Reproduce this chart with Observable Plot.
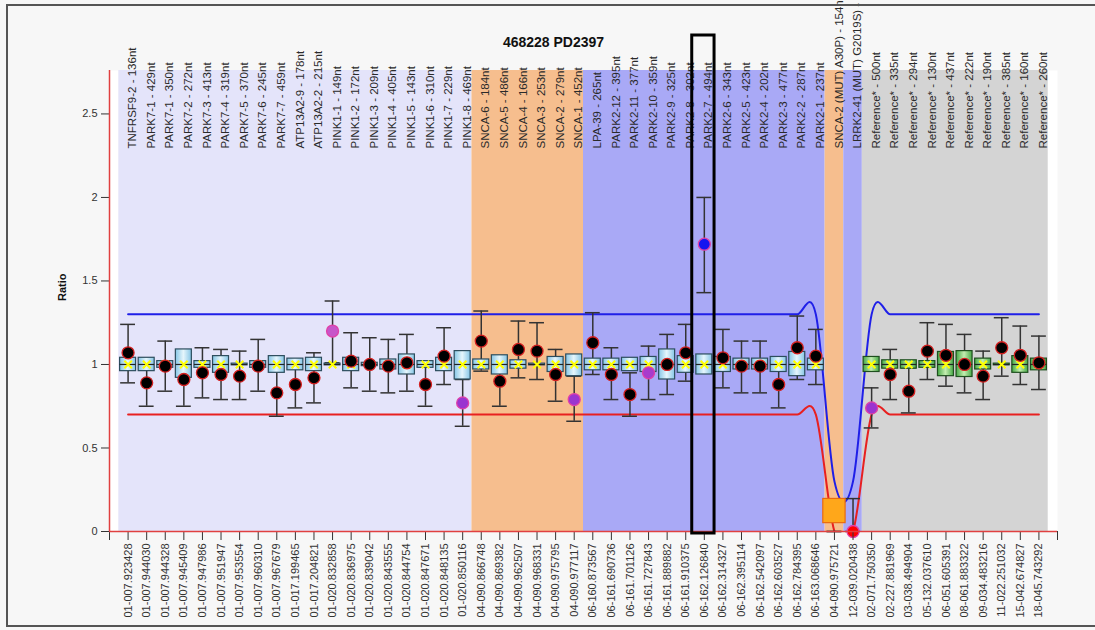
<!DOCTYPE html>
<html><head><meta charset="utf-8">
<script src="https://cdn.jsdelivr.net/npm/d3@7"></script>
<script src="https://cdn.jsdelivr.net/npm/@observablehq/plot@0.6"></script>
<style>
html,body{margin:0;padding:0;background:#f7f7f7;}
#wrap{position:relative;width:1095px;height:630px;overflow:hidden;}
#frame{position:absolute;left:6px;top:4px;width:1100px;height:619px;border-left:2px solid #555;border-top:2px solid #555;border-bottom:2px solid #555;pointer-events:none;}
</style></head>
<body><div id="wrap"><div id="chart"></div><div id="frame"></div></div>
<script>
// ---- data ----
const title = "468228 PD2397";
const probeNames = ["TNFRSF9-2 - 136nt","PARK7-1 - 429nt","PARK7-1 - 350nt","PARK7-2 - 272nt","PARK7-3 - 413nt","PARK7-4 - 319nt","PARK7-5 - 370nt","PARK7-6 - 245nt","PARK7-7 - 459nt","ATP13A2-9 - 178nt","ATP13A2-2 - 215nt","PINK1-1 - 149nt","PINK1-2 - 172nt","PINK1-3 - 209nt","PINK1-4 - 405nt","PINK1-5 - 143nt","PINK1-6 - 310nt","PINK1-7 - 229nt","PINK1-8 - 469nt","SNCA-6 - 184nt","SNCA-5 - 486nt","SNCA-4 - 166nt","SNCA-3 - 253nt","SNCA-2 - 279nt","SNCA-1 - 452nt","LPA-39 - 265nt","PARK2-12 - 395nt","PARK2-11 - 377nt","PARK2-10 - 359nt","PARK2-9 - 325nt","PARK2-8 - 302nt","PARK2-7 - 494nt","PARK2-6 - 343nt","PARK2-5 - 423nt","PARK2-4 - 202nt","PARK2-3 - 477nt","PARK2-2 - 287nt","PARK2-1 - 237nt","SNCA-2 (MUT) A30P) - 154nt","LRRK2-41 (MUT) G2019S) -","Reference* - 500nt","Reference* - 335nt","Reference* - 294nt","Reference* - 130nt","Reference* - 437nt","Reference* - 222nt","Reference* - 190nt","Reference* - 385nt","Reference* - 160nt","Reference* - 260nt"];
const loci = ["01-007.923428","01-007.944030","01-007.944328","01-007.945409","01-007.947986","01-007.951947","01-007.953554","01-007.960310","01-007.967679","01-017.199465","01-017.204821","01-020.832858","01-020.836975","01-020.839042","01-020.843555","01-020.844754","01-020.847671","01-020.848135","01-020.850116","04-090.866748","04-090.869382","04-090.962507","04-090.968331","04-090.975795","04-090.977117","06-160.873567","06-161.690736","06-161.701126","06-161.727843","06-161.889882","06-161.910375","06-162.126840","06-162.314327","06-162.395114","06-162.542097","06-162.603527","06-162.784395","06-163.068646","04-090.975721","12-039.020438","02-071.750350","02-227.881969","03-038.494904","05-132.037610","06-051.605391","08-061.883322","09-034.483216","11-022.251032","15-042.674827","18-045.743292"];
const ratio   = [1.07,0.89,0.99,0.91,0.95,0.94,0.93,0.99,0.83,0.88,0.92,1.20,1.02,1.00,0.99,1.01,0.88,1.05,0.77,1.14,0.90,1.09,1.08,0.94,0.79,1.13,0.94,0.82,0.95,1.00,1.07,1.72,1.04,0.99,0.99,0.88,1.10,1.05,null,0.00,0.74,0.94,0.84,1.08,1.055,1.00,0.93,1.10,1.055,1.01];
const ciLow   = [0.89,0.75,0.84,0.75,0.80,0.79,0.79,0.84,0.69,0.74,0.77,1.01,0.86,0.84,0.83,0.84,0.75,0.88,0.63,0.96,0.75,0.92,0.91,0.78,0.66,0.94,0.79,0.69,0.79,0.82,0.90,1.43,0.86,0.83,0.83,0.74,0.91,0.88,0.00,0.00,0.62,0.79,0.71,0.91,0.87,0.83,0.79,0.93,0.88,0.85];
const ciHigh  = [1.24,1.03,1.14,1.07,1.10,1.09,1.08,1.15,0.97,1.02,1.07,1.38,1.19,1.16,1.15,1.18,1.02,1.22,0.91,1.32,1.05,1.26,1.25,1.09,0.93,1.31,1.10,0.95,1.11,1.18,1.24,2.00,1.21,1.14,1.14,1.03,1.29,1.21,0.00,0.197,0.86,1.09,0.98,1.25,1.24,1.18,1.08,1.28,1.23,1.17];
const boxLow  = [0.96,0.96,0.98,0.92,0.98,0.95,0.995,0.98,0.95,0.965,0.96,0.995,0.96,0.99,0.97,0.94,0.98,0.96,0.91,0.97,0.94,0.975,0.995,0.955,0.93,0.965,0.965,0.96,0.955,0.91,0.95,0.94,0.955,0.97,0.97,0.955,0.93,0.965,0.05,null,0.955,0.975,0.975,0.98,0.93,0.925,0.97,0.995,0.95,0.965];
const boxHigh = [1.04,1.04,1.02,1.09,1.02,1.05,1.005,1.02,1.05,1.035,1.04,1.005,1.04,1.01,1.03,1.06,1.02,1.04,1.08,1.03,1.055,1.025,1.005,1.045,1.06,1.035,1.035,1.04,1.045,1.09,1.05,1.06,1.045,1.035,1.035,1.045,1.075,1.035,0.195,null,1.045,1.025,1.025,1.02,1.075,1.08,1.035,1.005,1.05,1.035];
const median  = [1,1,1,1,1,1,1,1,1,1,1,1,1,1,1,1,1,1,1,1,1,1,1,1,1,1,1,1,1,1,1,1,1,1,1,1,1,1,null,null,1,1,1,1,1,1,1,1,1,1];
const boxKind = ["test","test","test","test","test","test","test","test","test","test","test","test","test","test","test","test","test","test","test","test","test","test","test","test","test","test","test","test","test","test","test","test","test","test","test","test","test","test","mut","none","ref","ref","ref","ref","ref","ref","ref","ref","ref","ref"];
const dotFill = ["#000","#000","#000","#000","#000","#000","#000","#000","#000","#000","#000","#c755c9","#000","#000","#000","#000","#000","#000","#9a35d0","#000","#000","#000","#000","#000","#9a35d0","#000","#000","#000","#a83ccc","#000","#000","#1414f0","#000","#000","#000","#000","#000","#000","#000","#ff0000","#9a35d0","#000","#000","#000","#000","#000","#000","#000","#000","#000"];
const upperLimit = [1.3,1.3,1.3,1.3,1.3,1.3,1.3,1.3,1.3,1.3,1.3,1.3,1.3,1.3,1.3,1.3,1.3,1.3,1.3,1.3,1.3,1.3,1.3,1.3,1.3,1.3,1.3,1.3,1.3,1.3,1.3,1.3,1.3,1.3,1.3,1.3,1.3,1.3,0.3,0.3,1.3,1.3,1.3,1.3,1.3,1.3,1.3,1.3,1.3,1.3];
const lowerLimit = [0.7,0.7,0.7,0.7,0.7,0.7,0.7,0.7,0.7,0.7,0.7,0.7,0.7,0.7,0.7,0.7,0.7,0.7,0.7,0.7,0.7,0.7,0.7,0.7,0.7,0.7,0.7,0.7,0.7,0.7,0.7,0.7,0.7,0.7,0.7,0.7,0.7,0.7,0.0,0.0,0.7,0.7,0.7,0.7,0.7,0.7,0.7,0.7,0.7,0.7];
const bandStart = [0,19,25,38,39,40];
const bandEnd   = [18,24,37,38,39,49];
const bandColor = ["#e4e4fa","#f6be8e","#a9a9f6","#f6be8e","#a9a9f6","#d4d4d4"];
const highlightIndex = 31;
const yTicks = [0,0.5,1,1.5,2,2.5];
const yMax = 2.76;

// ---- build table ----
const rows = probeNames.map((name, i) => ({
  i, name, locus: loci[i], ratio: ratio[i], lo: ciLow[i], hi: ciHigh[i],
  bLo: boxLow[i], bHi: boxHigh[i], med: median[i], kind: boxKind[i],
  fill: dotFill[i], stroke: dotFill[i] === "#000" ? "#d42020" : "#e040a8",
  up: upperLimit[i], low: lowerLimit[i]
}));
const bands = bandStart.map((s, k) => ({s, e: bandEnd[k], color: bandColor[k]}));
const boxed = rows.filter(d => d.bLo != null);
const BW = 0.43, CW = 0.4;

const chart = Plot.plot({
  width: 1095, height: 630,
  marginLeft: 109, marginRight: 38, marginTop: 70, marginBottom: 99,
  style: {background: "transparent", fontFamily: "'Liberation Sans', Arial, sans-serif", fontSize: "11px", color: "#333"},
  x: {type: "linear", domain: [-1, 50]},
  y: {domain: [0, yMax]},
  color: {type: "identity"},
  marks: [
    Plot.frame({fill: "white", stroke: null}),
    Plot.rect(bands, {x1: d => d.s - 0.5, x2: d => d.e + 0.5, y1: 0, y2: yMax, fill: "color"}),
    Plot.text(rows, {x: "i", text: "name", rotate: -90, textAnchor: "start", frameAnchor: "top", dy: 78, fill: "#2a2a2a", fontSize: 11.5}),
    Plot.line(rows, {x: "i", y: "up", stroke: "#1f1fe8", strokeWidth: 2, curve: "cardinal", clip: true}),
    Plot.line(rows, {x: "i", y: "low", stroke: "#e82020", strokeWidth: 2, curve: "cardinal", clip: true}),
    Plot.ruleX(rows, {x: "i", y1: "lo", y2: "hi", stroke: "#333", strokeWidth: 1.5}),
    Plot.ruleY(rows, {y: "hi", x1: d => d.i - CW, x2: d => d.i + CW, stroke: "#333", strokeWidth: 1.5}),
    Plot.ruleY(rows, {y: "lo", x1: d => d.i - CW, x2: d => d.i + CW, stroke: "#333", strokeWidth: 1.5}),
    Plot.rect(boxed.filter(d => d.kind === "test"), {x1: d => d.i - BW, x2: d => d.i + BW, y1: "bLo", y2: "bHi", fill: "url(#gBlue)", stroke: "#2d4d5d", strokeWidth: 1.2}),
    Plot.rect(boxed.filter(d => d.kind === "ref"), {x1: d => d.i - BW, x2: d => d.i + BW, y1: "bLo", y2: "bHi", fill: "url(#gGreen)", stroke: "#1f4f1f", strokeWidth: 1.2}),
    Plot.rect(boxed.filter(d => d.kind === "mut"), {x1: d => d.i - 0.6, x2: d => d.i + 0.6, y1: "bLo", y2: "bHi", fill: "#ffa71a", stroke: "#e86a10", strokeWidth: 1.2}),
    Plot.ruleY(rows.filter(d => d.med != null), {y: "med", x1: d => d.i - BW, x2: d => d.i + BW, stroke: "#222", strokeWidth: 1.2}),
    Plot.dot(rows.filter(d => d.med != null), {x: "i", y: "med", symbol: "times", r: 3.5, stroke: "#ffff00", strokeWidth: 2}),
    Plot.dot(rows.filter(d => d.ratio != null), {x: "i", y: "ratio", r: 6, fill: "fill", stroke: "stroke", strokeWidth: 1.3}),
    Plot.axisY({ticks: yTicks, tickSize: 8, tickPadding: 4, tickFormat: d => String(d), label: null, fontSize: 11}),
    Plot.axisX({ticks: d3.range(-1, 51), tickFormat: i => loci[i] ?? "", tickRotate: -90, tickSize: 9, tickPadding: 3, label: null, fontSize: 11}),
    Plot.ruleX([-1], {y1: 0, y2: yMax, stroke: "#e04040", strokeWidth: 1.5}),
    Plot.ruleY([0], {x1: -1, x2: 50, stroke: "#e04040", strokeWidth: 1.5}),
    Plot.text(["Ratio"], {frameAnchor: "left", dx: -47, rotate: -90, fontWeight: "bold", fontSize: 11, fill: "#111"}),
    Plot.text([title], {frameAnchor: "top", dx: -30, dy: -33, fontWeight: "bold", fontSize: 14, fill: "#111"}),
    Plot.rect([highlightIndex], {x1: d => d - 0.65, x2: d => d + 0.55, y1: 0, y2: yMax, insetTop: -35, insetBottom: -2, fill: "none", stroke: "#000", strokeWidth: 3})
  ]
});

const svg = d3.select(chart);
const defs = svg.insert("defs", ":first-child");
const gb = defs.append("linearGradient").attr("id", "gBlue").attr("x1", "0").attr("x2", "1").attr("y1", "0").attr("y2", "0");
gb.append("stop").attr("offset", "0").attr("stop-color", "#86c6e6");
gb.append("stop").attr("offset", "0.5").attr("stop-color", "#e6f6fc");
gb.append("stop").attr("offset", "1").attr("stop-color", "#86c6e6");
const gg = defs.append("linearGradient").attr("id", "gGreen").attr("x1", "0").attr("x2", "1").attr("y1", "0").attr("y2", "0");
gg.append("stop").attr("offset", "0").attr("stop-color", "#45a845");
gg.append("stop").attr("offset", "0.5").attr("stop-color", "#c4eeb0");
gg.append("stop").attr("offset", "1").attr("stop-color", "#45a845");

document.getElementById("chart").append(chart);
</script>
</body></html>
